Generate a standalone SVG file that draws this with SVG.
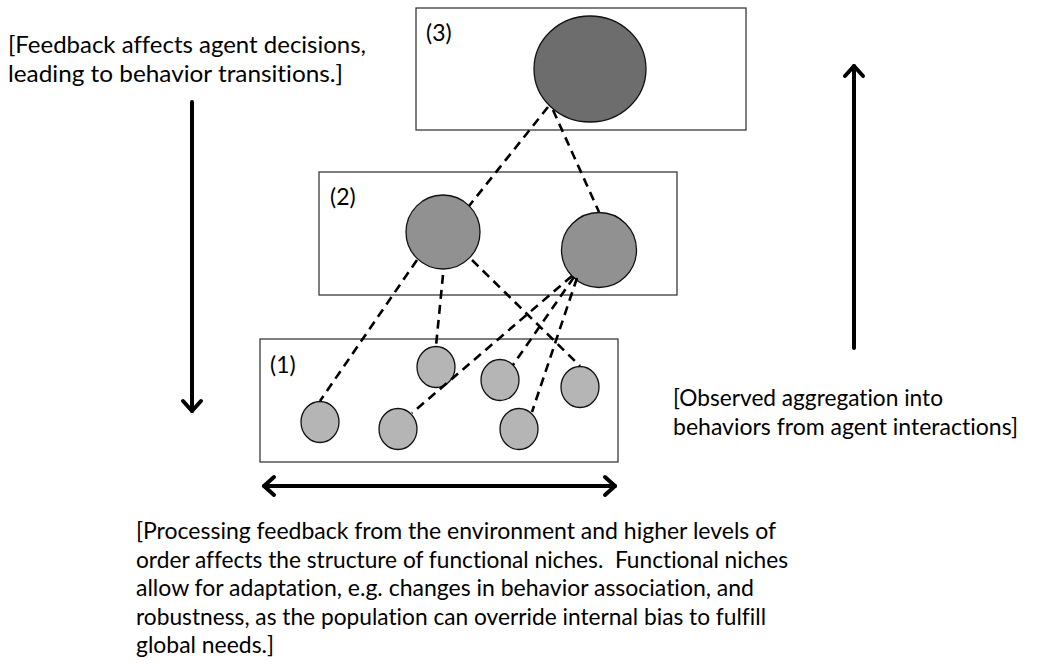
<svg xmlns="http://www.w3.org/2000/svg" width="1038" height="664" viewBox="0 0 1038 664">
<defs>
<style>
.box{fill:#fff;stroke:#3a3a3a;stroke-width:1.3}
.n3{fill:#6d6d6d;stroke:#111;stroke-width:1.3}
.n2{fill:#919191;stroke:#111;stroke-width:1.3}
.n1{fill:#b5b5b5;stroke:#111;stroke-width:1.3}
.dash{stroke:#000;stroke-width:2.6;stroke-dasharray:9 6;fill:none}
.arr{stroke:#000;stroke-width:4;fill:none;stroke-linecap:round;stroke-linejoin:round}
text{font-family:Lato,"Open Sans","Liberation Sans",sans-serif;font-size:23px;fill:#000;font-variant-ligatures:none}
</style>
</defs>
<g id="level3">
<rect class="box" x="416" y="8" width="330" height="122"/>
<text x="426" y="41">(3)</text>
<ellipse class="n3" cx="590" cy="69" rx="56" ry="53"/>
</g>
<g id="level2">
<rect class="box" x="319" y="172" width="358" height="123"/>
<text x="330" y="205">(2)</text>
<circle class="n2" cx="443" cy="232" r="37"/>
<circle class="n2" cx="599" cy="250" r="37.5"/>
</g>
<g id="level1">
<rect class="box" x="260" y="339" width="358" height="123"/>
<text x="270" y="373">(1)</text>
<ellipse class="n1" cx="320" cy="422" rx="19" ry="20.5"/>
<ellipse class="n1" cx="398" cy="429" rx="19" ry="20.5"/>
<ellipse class="n1" cx="436" cy="367" rx="19" ry="20.5"/>
<ellipse class="n1" cx="500" cy="380" rx="19" ry="20.5"/>
<ellipse class="n1" cx="580" cy="387" rx="19" ry="20.5"/>
<ellipse class="n1" cx="519" cy="429" rx="19" ry="20.5"/>
</g>
<g id="connectors">
<line class="dash" x1="548" y1="107" x2="469" y2="206"/>
<line class="dash" x1="553" y1="110" x2="599" y2="212"/>
<line class="dash" x1="417" y1="260" x2="320" y2="401"/>
<line class="dash" x1="443" y1="275" x2="436" y2="346"/>
<line class="dash" x1="472" y1="260" x2="580" y2="366"/>
<line class="dash" x1="572" y1="276" x2="412" y2="413"/>
<line class="dash" x1="574" y1="277" x2="513" y2="365"/>
<line class="dash" x1="577" y1="278" x2="532" y2="412"/>
</g>
<g id="arrows">
<line class="arr" x1="192" y1="102" x2="192" y2="411"/>
<polyline class="arr" points="183,401 192,411 201,401"/>
<line class="arr" x1="854" y1="66" x2="854" y2="348"/>
<polyline class="arr" points="845,76 854,66 863,76"/>
<line class="arr" x1="264" y1="486" x2="615" y2="486"/>
<polyline class="arr" points="274,477 264,486 274,495"/>
<polyline class="arr" points="605,477 615,486 605,495"/>
</g>
<g id="labels">
<text x="8" y="53" textLength="358" lengthAdjust="spacingAndGlyphs">[Feedback affects agent decisions,</text>
<text x="8" y="82" textLength="335" lengthAdjust="spacingAndGlyphs">leading to behavior transitions.]</text>
<text x="673" y="406" textLength="270" lengthAdjust="spacingAndGlyphs">[Observed aggregation into</text>
<text x="673" y="435" textLength="345" lengthAdjust="spacingAndGlyphs">behaviors from agent interactions]</text>
<text x="136" y="539" textLength="640" lengthAdjust="spacingAndGlyphs">[Processing feedback from the environment and higher levels of</text>
<text x="136" y="567.5" textLength="652" lengthAdjust="spacingAndGlyphs" xml:space="preserve">order affects the structure of functional niches.  Functional niches</text>
<text x="136" y="596" textLength="618" lengthAdjust="spacingAndGlyphs">allow for adaptation, e.g. changes in behavior association, and</text>
<text x="136" y="624.5" textLength="630" lengthAdjust="spacingAndGlyphs">robustness, as the population can override internal bias to fulfill</text>
<text x="136" y="653" textLength="138" lengthAdjust="spacingAndGlyphs">global needs.]</text>
</g>
</svg>
